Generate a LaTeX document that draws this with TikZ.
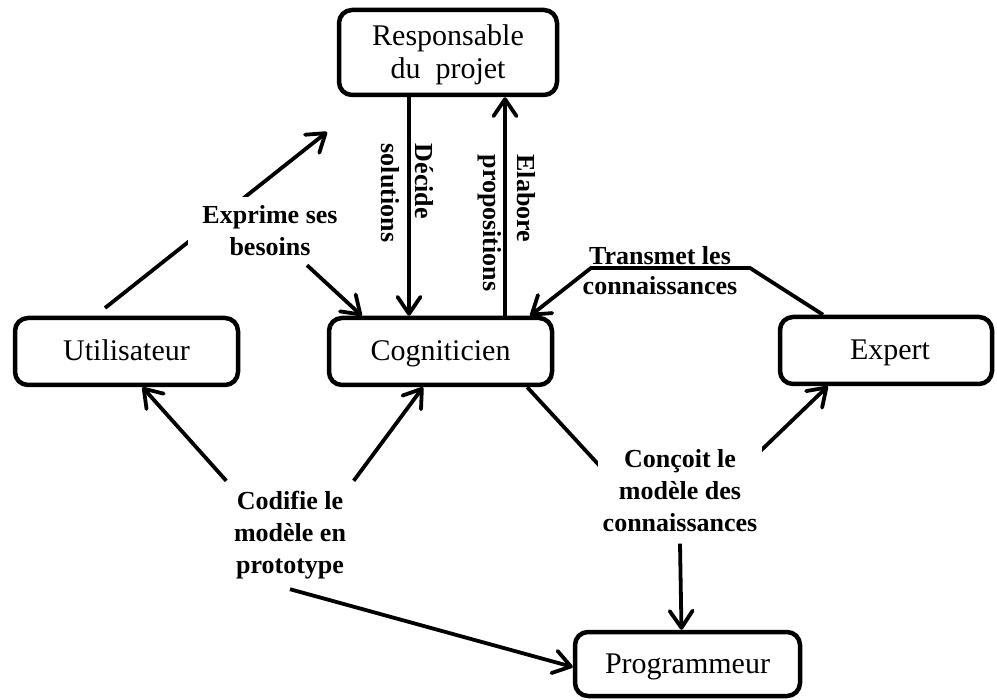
\documentclass[tikz,border=0pt]{standalone}
\usepackage{fontspec}
\setmainfont{Liberation Serif}
\usetikzlibrary{arrows.meta,calc}
\begin{document}
\begin{tikzpicture}[x=1pt,y=-1pt,
  box/.style={draw, line width=4.5pt, rounded corners=13pt, inner sep=0pt, align=center,
    font=\fontsize{30}{33}\selectfont},
  onebox/.style={box, text height=26pt, text depth=7pt},
  lbl/.style={inner sep=0pt, align=center, font=\fontsize{26}{32}\selectfont\bfseries},
  vlbl/.style={inner sep=0pt, align=left, rotate=-90, font=\fontsize{26}{34}\selectfont\bfseries},
  link/.style={line width=3.8pt},
  arr/.style={link, -{Straight Barb[length=17pt,width=23pt,round]}},
]
\useasboundingbox (0,0) rectangle (997,700);

% actors
\node[box, minimum width=218pt, minimum height=85pt] (resp) at (448,52.5)
  {\rule{0pt}{25pt}Responsable\\du~~projet};
\node[onebox, minimum width=223pt, minimum height=67pt] (util) at (126.5,351.5) {Utilisateur};
\node[onebox, minimum width=223pt, minimum height=67pt] (cog) at (440.5,351.5) {Cogniticien};
\node[onebox, minimum width=212pt, minimum height=67pt] (expert) at (886,350.5) {\hspace{8pt}Expert};
\node[onebox, minimum width=225pt, minimum height=64pt] (prog) at (687.5,664) {Programmeur};

% user expresses needs
\coordinate (eStart) at (105,308);
\coordinate (eEnd) at (327,132);
\draw[arr] (eStart) -- (eEnd);
\node[lbl, fill=white, minimum width=164pt, minimum height=68pt] (lblExp) at (270,231) {Exprime ses\\besoins};
\draw[arr] (lblExp) -- ([xshift=35pt]cog.north west);

% decisions and proposals
\coordinate (xD) at (409,0);
\draw[arr] (resp.south -| xD) -- (cog.north -| xD);
\node[vlbl] (lblDec) at (407.5,193) {Décide\\solutions};
\coordinate (xE) at (505,0);
\draw[arr] (cog.north -| xE) -- (resp.south -| xE);
\node[vlbl] (lblEla) at (507,223) {Elabore\\propositions};

% expert hands over knowledge
\coordinate (t1) at (750,268);
\coordinate (t2) at (591,268);
\draw[arr] ([xshift=-63pt]expert.north) -- (t1) -- (t2) -- ([xshift=-24pt]cog.north east);
\node[lbl, font=\fontsize{26}{30}\selectfont\bfseries] (lblTra) at (660,271) {Transmet les\\connaissances};

% knowledge model
\coordinate (jK) at (668,540);
\draw[link] ([xshift=-27pt]cog.south east) -- (jK);
\draw[arr] (jK) -- ([xshift=50pt]expert.south west);
\node[lbl, fill=white, minimum width=164pt, minimum height=105pt] (lblCon) at (680,491) {Conçoit le\\modèle des\\connaissances};
\draw[arr] (lblCon.south) -- ([xshift=-6pt]prog.north);

% prototype coding
\node[lbl, minimum width=127pt, minimum height=108pt] (lblCod) at (290,535) {Codifie le\\modèle en\\prototype};
\draw[arr] (lblCod.north west) -- ([xshift=16pt]util.south);
\draw[arr] (lblCod.north east) -- ([xshift=-17.5pt]cog.south);
\draw[arr] (lblCod.south) -- ([yshift=-3pt]prog.west);
\end{tikzpicture}
\end{document}
